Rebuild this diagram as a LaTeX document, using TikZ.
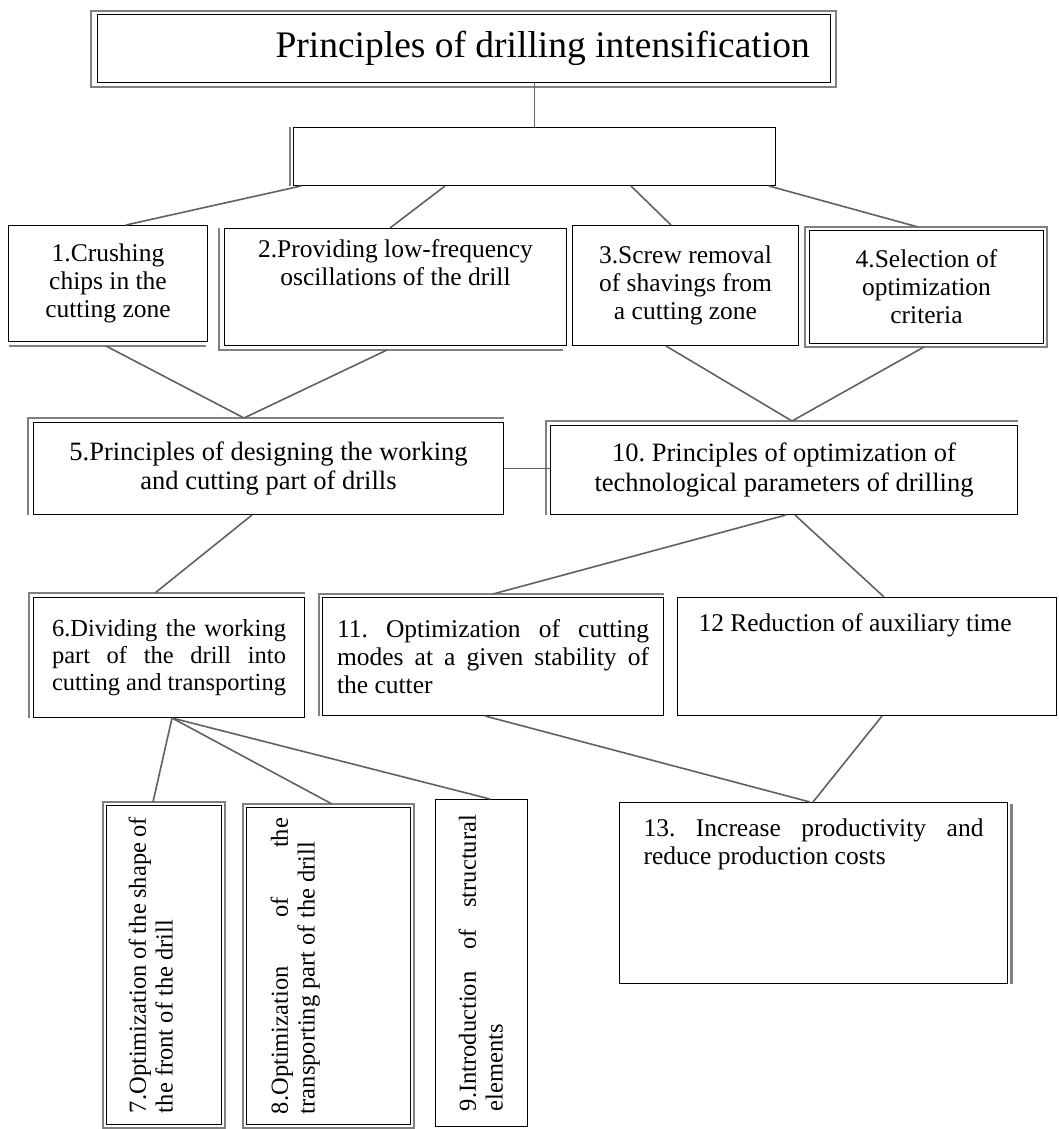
\documentclass[tikz,border=0pt]{standalone}
\usepackage{fontspec}
\setmainfont{Liberation Serif}
\usetikzlibrary{calc}
\hyphenpenalty=10000
\exhyphenpenalty=10000
\frenchspacing
\newcommand{\titlefont}{\fontsize{37.5pt}{43pt}\selectfont}
% #1 text width, #2 content height, #3 vertical pos, #4 font size, #5 text
\newcommand{\btxt}[5]{\parbox[c][#2pt][#3]{#1pt}{\fontsize{#4pt}{1.1\dimexpr #4pt\relax}\selectfont\frenchspacing #5}}
\tikzset{
  bx/.style={draw=black, line width=1pt, fill=white, inner sep=0pt, anchor=north west},
  conn/.style={draw=black!62, line width=1.6pt},
  sh/.style={draw=black!50, line width=1.4pt},
}
\begin{document}
\begin{tikzpicture}[x=1pt,y=-1pt]
\useasboundingbox[fill=white] (0,0) rectangle (1059,1129);

% nodes
\node[bx, minimum width=733pt, minimum height=68pt] (t) at (97,14) {\parbox[c][68pt][c]{733pt}{\titlefont\hspace*{178pt}Principles of drilling intensification}};
\node[bx, minimum width=482pt, minimum height=58pt] (e) at (293,127) {};

\node[bx, minimum width=199pt, minimum height=116pt] (b1) at (8,225) {\btxt{150}{100}{c}{25.5}{\centering 1.Crushing chips in the cutting zone}};
\node[bx, minimum width=342pt, minimum height=117pt] (b2) at (224,228) {\btxt{320}{95}{t}{25.5}{\centering 2.Providing low-frequency oscillations of the drill}};
\node[bx, minimum width=226pt, minimum height=120pt] (b3) at (572,225) {\btxt{185}{104}{c}{25.5}{\centering 3.Screw removal of shavings from a cutting zone}};
\node[bx, minimum width=234pt, minimum height=113pt] (b4) at (809,230) {\btxt{190}{100}{c}{25.5}{\centering 4.Selection of optimization criteria}};

\node[bx, minimum width=470pt, minimum height=92pt] (b5) at (33,422) {\btxt{420}{80}{c}{26.5}{\centering 5.Principles of designing the working and cutting part of drills}};
\node[bx, minimum width=467pt, minimum height=89pt] (b10) at (550,425) {\btxt{420}{80}{c}{26.5}{\centering 10. Principles of optimization of technological parameters of drilling}};

\node[bx, minimum width=271pt, minimum height=120pt] (b6) at (33,597) {\btxt{234}{104}{c}{24.5}{6.Dividing the working part of the drill into cutting and transporting}};
\node[bx, minimum width=341pt, minimum height=118pt] (b11) at (322,597) {\btxt{312}{104}{c}{25.5}{11. Optimization of cutting modes at a given stability of the cutter}};
\node[bx, minimum width=379pt, minimum height=118pt] (b12) at (677,597) {\btxt{337}{86}{t}{25.5}{\raggedright 12 Reduction of auxiliary time}};

\node[bx, rotate=90, minimum width=319pt, minimum height=115pt] (b7) at (106,1125) {\btxt{296}{71}{t}{24.5}{7.Optimization of the shape of the front of the drill}};
\node[bx, rotate=90, minimum width=317pt, minimum height=164pt] (b8) at (246,1125) {\btxt{296}{116}{t}{24.5}{8.Optimization of the transporting part of the drill}};
\node[bx, rotate=90, minimum width=327pt, minimum height=92pt] (b9) at (435,1127) {\btxt{296}{60}{t}{24.5}{\vspace*{7pt}9.Introduction of structural elements}};

\node[bx, minimum width=388pt, minimum height=181pt] (b13) at (619,802) {\btxt{340}{149}{t}{25.5}{13. Increase productivity and reduce production costs}};

% shadows / double borders
\draw[sh] ($(t.north west)+(-6,-3)$) rectangle ($(t.south east)+(5,4)$);
\draw[sh] ($(e.north west)+(-3,0)$) -- ($(e.south west)+(-3,0)$);
\draw[sh] ($(b1.south west)+(1,4)$) -- ($(b1.south east)+(-2,4)$);
\draw[sh] ($(b2.north west)+(-5,0)$) -- ($(b2.south west)+(-5,4)$) -- ($(b2.south east)+(-4,4)$);
\draw[sh] ($(b4.north west)+(-4,-3)$) rectangle ($(b4.south east)+(3,3)$);
\draw[sh] ($(b5.south west)+(-5,0)$) -- ($(b5.north west)+(-5,-4)$) -- ($(b5.north east)+(0,-4)$);
\draw[sh] ($(b10.south west)+(-4,0)$) -- ($(b10.north west)+(-4,-4)$) -- ($(b10.north east)+(0,-4)$);
\draw[sh] ($(b6.south west)+(-4,0)$) -- ($(b6.north west)+(-4,-4)$) -- ($(b6.north east)+(0,-4)$);
\draw[sh] ($(b11.south west)+(-3,0)$) -- ($(b11.north west)+(-3,-3)$) -- ($(b11.north east)+(0,-3)$);
\draw[sh, line width=3pt] ($(b13.north east)+(3,2)$) -- ($(b13.south east)+(3,0)$);
\draw[sh] ($(b7.north west)+(-3,3)$) rectangle ($(b7.south east)+(3,-3)$);
\draw[sh] ($(b8.north west)+(-3,3)$) rectangle ($(b8.south east)+(3,-3)$);

% connectors
\draw[conn] (e.north |- t.south) -- (e.north);
\draw[conn] ($(e.south west)+(8,0)$) -- ($(b1.north west)+(118,0)$);
\draw[conn] ($(e.south west)+(152,0)$) -- ($(b2.north west)+(166,0)$);
\draw[conn] ($(e.south west)+(338,0)$) -- ($(b3.north west)+(99,0)$);
\draw[conn] ($(e.south west)+(476,0)$) -- ($(b4.north west)+(109,-3)$);

\draw[conn] ($(b1.south west)+(98,4)$) -- ($(b5.north west)+(211,-4)$);
\draw[conn] ($(b2.south west)+(163,4)$) -- ($(b5.north west)+(211,-4)$);
\draw[conn] ($(b3.south west)+(94,0)$) -- ($(b10.north west)+(242,-4)$);
\draw[conn] ($(b4.south west)+(115,3)$) -- ($(b10.north west)+(242,-4)$);

\draw[conn] (b5.east) -- (b5.east -| b10.west);

\draw[conn] ($(b5.south west)+(219,0)$) -- ($(b6.north west)+(122,-4)$);
\draw[conn] ($(b10.south west)+(236,0)$) -- ($(b11.north west)+(171,-3)$);
\draw[conn] ($(b10.south west)+(245,0)$) -- ($(b12.north west)+(207,0)$);

\draw[conn] ($(b6.south west)+(139,0)$) -- ($(b7.north east)+(47,-3)$);
\draw[conn] ($(b6.south west)+(139,0)$) -- ($(b8.north east)+(86,-3)$);
\draw[conn] ($(b6.south west)+(139,0)$) -- ($(b9.north east)+(55,0)$);

\draw[conn] ($(b11.south west)+(163,0)$) -- ($(b13.north west)+(191,0)$);
\draw[conn] ($(b12.south west)+(205,0)$) -- ($(b13.north west)+(194,0)$);
\end{tikzpicture}
\end{document}
